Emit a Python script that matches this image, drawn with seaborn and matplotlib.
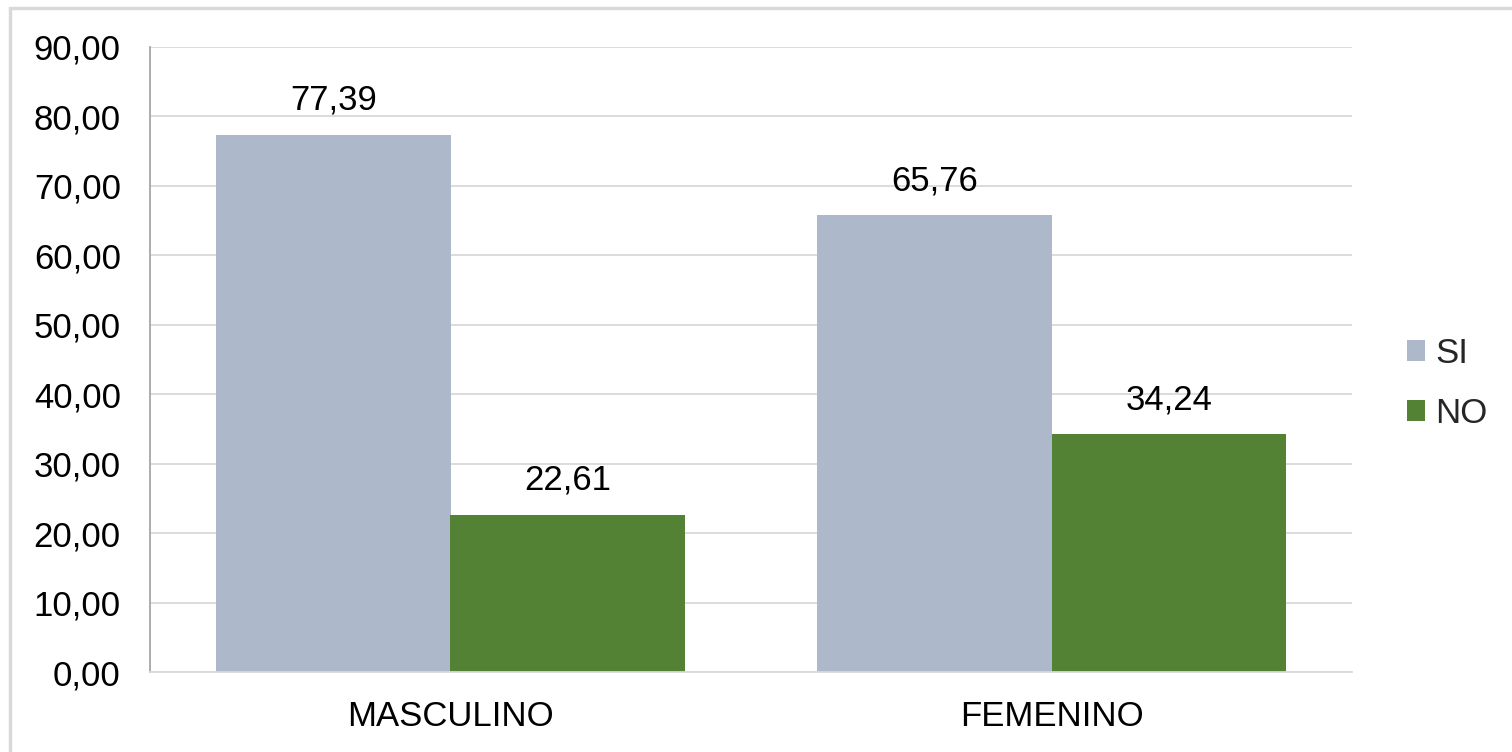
import matplotlib
matplotlib.use("Agg")
import matplotlib.pyplot as plt
import seaborn as sns
import pandas as pd
from matplotlib.patches import Rectangle

categorias = ["MASCULINO", "FEMENINO"]
series = ["SI", "NO"]
valores_si = [77.39, 65.76]
valores_no = [22.61, 34.24]
yticks = [0, 10, 20, 30, 40, 50, 60, 70, 80, 90]

df = pd.DataFrame({
    "sexo": categorias * 2,
    "respuesta": ["SI"] * len(categorias) + ["NO"] * len(categorias),
    "valor": valores_si + valores_no,
})

sns.set_theme(style="white")
plt.rcParams["font.family"] = ["Liberation Sans", "DejaVu Sans"]

colores = {"SI": "#adb9ca", "NO": "#548235"}
fs = 25

fig = plt.figure(figsize=(15.12, 7.52), dpi=100)
ax = fig.add_axes([150 / 1512, 1 - 672 / 752, (1352 - 150) / 1512, (672 - 47) / 752])

sns.barplot(data=df, x="sexo", y="valor", hue="respuesta", order=categorias,
            hue_order=series, palette=colores, width=0.78, saturation=1,
            linewidth=0, ax=ax, legend=True)

def fmt(v):
    return f"{v:.2f}".replace(".", ",")

for cont in ax.containers:
    ax.bar_label(cont, labels=[fmt(b.get_height()) for b in cont], padding=13,
                 fontsize=fs, color="#000000")

ax.set_ylim(0, 90)
ax.set_xlim(-0.5, 1.5)
ax.set_yticks(yticks)
ax.set_yticklabels([fmt(t) for t in yticks], fontsize=fs, color="#000000")
ax.tick_params(axis="x", labelsize=fs, colors="#000000", pad=20, length=0)
ax.tick_params(axis="y", pad=21, length=0)
ax.set_xlabel("")
ax.set_ylabel("")
ax.yaxis.grid(True, color="#d9d9d9", linewidth=1.3)
ax.set_axisbelow(True)
for s in ["top", "right"]:
    ax.spines[s].set_visible(False)
ax.spines["left"].set_color("#a6a6a6")
ax.spines["left"].set_linewidth(1.3)
ax.spines["bottom"].set_color("#d9d9d9")
ax.spines["bottom"].set_linewidth(1.3)

leg = ax.legend(loc="center left", bbox_to_anchor=(1.046, 0.462), frameon=False,
                fontsize=fs, handlelength=0.52, handleheight=0.52,
                handletextpad=0.28, labelspacing=0.78, borderpad=0,
                borderaxespad=0)

# thin frame around the chart area
fig.patches.append(Rectangle((10 / 1512, -0.1), 1.2, (752 - 8) / 752 + 0.1,
                             transform=fig.transFigure, fill=False,
                             edgecolor="#d9d9d9", linewidth=2.5))

fig.savefig("out.png", dpi=100, facecolor="white")
